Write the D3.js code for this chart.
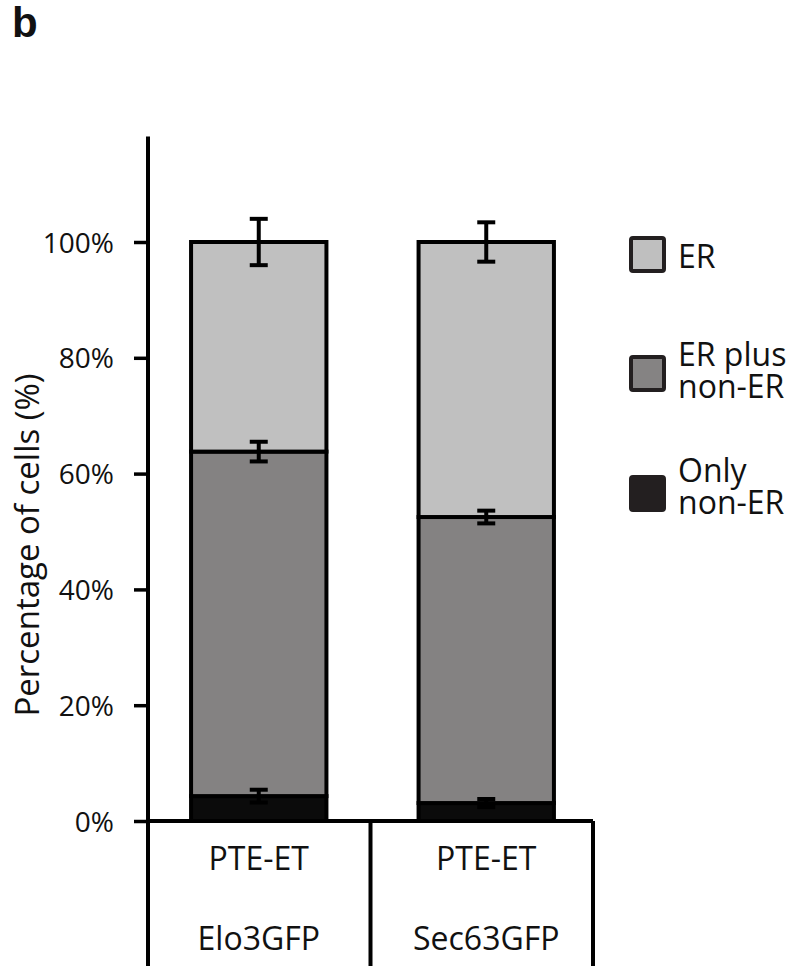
<!DOCTYPE html>
<html>
<head>
<meta charset="utf-8">
<script src="https://cdn.jsdelivr.net/npm/d3@7"></script>
<style>
  html, body { margin: 0; padding: 0; background: #fff; }
  svg { display: block; }
  text { font-family: "Open Sans", "Noto Sans", sans-serif; fill: #111; }
</style>
</head>
<body>
<svg id="chart" width="808" height="966"></svg>
<script>
// ---- data ----
const categories = ["Elo3GFP", "Sec63GFP"];
const conditionLabels = ["PTE-ET", "PTE-ET"];
const seriesNames = ["Only non-ER", "ER plus non-ER", "ER"];
const onlyNonER = [4.3, 3.1];
const erPlusNonER = [59.5, 49.4];
const erOnly = [36.2, 47.5];
const onlyNonERErr = [1.1, 0.7];
const erPlusNonERErr = [1.7, 1.1];
const erOnlyErr = [4.0, 3.4];
const yTicks = [0, 20, 40, 60, 80, 100];
const legendLabels = [["ER"], ["ER plus", "non-ER"], ["Only", "non-ER"]];

// ---- table ----
const seriesValues = [onlyNonER, erPlusNonER, erOnly];
const seriesErrs = [onlyNonERErr, erPlusNonERErr, erOnlyErr];
const table = categories.map((c, i) => {
  const row = { category: c };
  seriesNames.forEach((s, k) => { row[s] = seriesValues[k][i]; });
  return row;
});
const colors = d3.scaleOrdinal().domain(seriesNames).range(["#0b0b0b", "#848282", "#c0c0c0"]);
const legendFill = d3.scaleOrdinal().domain(seriesNames).range(["#231f20", "#858383", "#bfbfbf"]);

const svg = d3.select("#chart");

// ---- scales ----
const y = d3.scaleLinear().domain([0, 100]).range([821, 242]);
const xBar = d3.scaleBand().domain(categories).range([145, 600]).padding(0);
const xBox = d3.scaleBand().domain(categories).range([148, 593]).padding(0);
const barW = xBar.bandwidth() * 0.595;
const axisX = 148;
const bottom = 966;

// panel label
svg.append("text").attr("x", 12).attr("y", 37)
  .style("font-family", "'Liberation Sans', Arial, sans-serif")
  .style("font-weight", "bold").style("font-size", "42px").text("b");

// ---- bars ----
const stacked = d3.stack().keys(seriesNames)(table);
const gBars = svg.append("g");
stacked.forEach((layer, k) => {
  gBars.selectAll(null).data(layer).enter().append("rect")
    .attr("x", d => xBar(d.data.category) + xBar.bandwidth() / 2 - barW / 2)
    .attr("width", barW)
    .attr("y", d => y(d[1]))
    .attr("height", d => y(d[0]) - y(d[1]))
    .attr("fill", colors(layer.key))
    .attr("stroke", "#000").attr("stroke-width", 4);
});

// ---- error bars ----
const gErr = svg.append("g").attr("stroke", "#000").attr("stroke-width", 4);
stacked.forEach((layer, k) => {
  layer.forEach((d, i) => {
    const cx = xBar(d.data.category) + xBar.bandwidth() / 2;
    const e = seriesErrs[k][i];
    const yTop = y(d[1] + e), yBot = y(d[1] - e);
    gErr.append("line").attr("x1", cx).attr("x2", cx).attr("y1", yTop).attr("y2", yBot);
    gErr.append("line").attr("x1", cx - 9).attr("x2", cx + 9).attr("y1", yTop).attr("y2", yTop);
    gErr.append("line").attr("x1", cx - 9).attr("x2", cx + 9).attr("y1", yBot).attr("y2", yBot);
  });
});

// ---- y axis ----
const yAxis = d3.axisLeft(y).tickValues(yTicks).tickFormat(d => d + "%")
  .tickSize(14).tickPadding(20).tickSizeOuter(0);
const gY = svg.append("g").attr("transform", `translate(${axisX},0)`).call(yAxis);
gY.select(".domain").remove();
gY.selectAll(".tick line").attr("stroke", "#000").attr("stroke-width", 3.5);
gY.selectAll(".tick text").style("font-size", "28px").style("font-family", "'Open Sans', sans-serif")
  .attr("fill", "#111").attr("dy", "0.36em");

// axis lines / category boxes
const gLines = svg.append("g").attr("stroke", "#000").attr("stroke-width", 4).attr("fill", "none");
gLines.append("line").attr("x1", axisX).attr("x2", axisX).attr("y1", y(118.2)).attr("y2", bottom);
gLines.append("line").attr("x1", axisX).attr("x2", xBox.range()[1]).attr("y1", y(0)).attr("y2", y(0));
categories.forEach(c => {
  const xr = xBox(c) + xBox.bandwidth();
  gLines.append("line").attr("x1", xr).attr("x2", xr).attr("y1", y(0)).attr("y2", bottom);
});

// category labels
categories.forEach((c, i) => {
  const cx = xBar(c) + xBar.bandwidth() / 2;
  svg.append("text").attr("x", cx).attr("y", 870).attr("text-anchor", "middle")
    .style("font-size", "32px").text(conditionLabels[i]);
  svg.append("text").attr("x", cx).attr("y", 950).attr("text-anchor", "middle")
    .style("font-size", "32px").text(c);
});

// y title
svg.append("text")
  .attr("transform", "translate(39,545) rotate(-90)")
  .attr("text-anchor", "middle")
  .style("font-size", "33px")
  .text("Percentage of cells (%)");

// ---- legend ----
const legendOrder = ["ER", "ER plus non-ER", "Only non-ER"];
const legendSquareY = [238, 357, 477];
const legendFirstBaseline = [268, 366, 482];
const gLeg = svg.append("g");
legendOrder.forEach((s, i) => {
  gLeg.append("rect").attr("x", 631).attr("y", legendSquareY[i]).attr("width", 33).attr("height", 33)
    .attr("rx", 2).attr("fill", legendFill(s)).attr("stroke", "#231f20").attr("stroke-width", 4);
  const t = gLeg.append("text").attr("x", 678).attr("y", legendFirstBaseline[i])
    .style("font-size", "32px");
  legendLabels[i].forEach((line, j) => {
    t.append("tspan").attr("x", 678).attr("dy", j === 0 ? 0 : 32).text(line);
  });
});
</script>
</body>
</html>
